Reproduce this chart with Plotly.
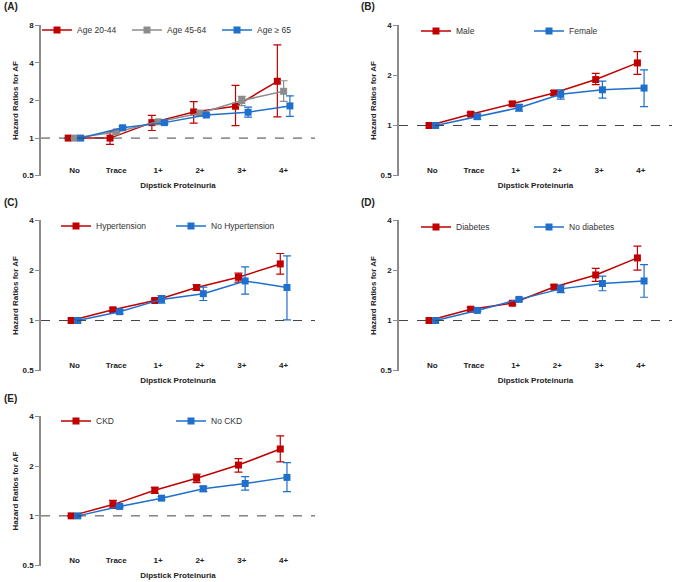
import math
import plotly.graph_objects as go

# ---------------- data ----------------
categories = ["No", "Trace", "1+", "2+", "3+", "4+"]

# Panel A - age groups
age_20_44 = [1.00, 1.00, 1.33, 1.62, 1.80, 2.85]
age_20_44_lo = [1.00, 0.89, 1.15, 1.32, 1.26, 1.48]
age_20_44_hi = [1.00, 1.12, 1.52, 1.96, 2.64, 5.57]
age_45_64 = [1.00, 1.12, 1.35, 1.58, 2.00, 2.37]
age_45_64_lo = [1.00, 1.10, 1.30, 1.50, 1.82, 1.97]
age_45_64_hi = [1.00, 1.15, 1.40, 1.67, 2.16, 2.88]
age_65 = [1.00, 1.21, 1.33, 1.53, 1.61, 1.81]
age_65_lo = [1.00, 1.18, 1.30, 1.49, 1.47, 1.49]
age_65_hi = [1.00, 1.24, 1.37, 1.57, 1.77, 2.18]

# Panel B - sex
male = [1.00, 1.17, 1.35, 1.57, 1.89, 2.38]
male_lo = [1.00, 1.14, 1.31, 1.52, 1.76, 2.03]
male_hi = [1.00, 1.20, 1.39, 1.62, 2.06, 2.78]
female = [1.00, 1.13, 1.28, 1.54, 1.64, 1.68]
female_lo = [1.00, 1.09, 1.22, 1.44, 1.46, 1.30]
female_hi = [1.00, 1.17, 1.34, 1.64, 1.85, 2.16]

# Panel C - hypertension
htn = [1.00, 1.16, 1.32, 1.58, 1.82, 2.19]
htn_lo = [1.00, 1.13, 1.29, 1.52, 1.70, 1.90]
htn_hi = [1.00, 1.19, 1.35, 1.64, 1.93, 2.53]
no_htn = [1.00, 1.13, 1.34, 1.45, 1.73, 1.58]
no_htn_lo = [1.00, 1.10, 1.27, 1.32, 1.44, 1.01]
no_htn_hi = [1.00, 1.16, 1.41, 1.59, 2.10, 2.45]

# Panel D - diabetes
dm = [1.00, 1.17, 1.27, 1.59, 1.88, 2.38]
dm_lo = [1.00, 1.14, 1.24, 1.55, 1.72, 2.01]
dm_hi = [1.00, 1.20, 1.30, 1.64, 2.06, 2.80]
no_dm = [1.00, 1.15, 1.34, 1.55, 1.67, 1.73]
no_dm_lo = [1.00, 1.13, 1.31, 1.47, 1.51, 1.38]
no_dm_hi = [1.00, 1.17, 1.37, 1.63, 1.85, 2.17]

# Panel E - CKD
ckd = [1.00, 1.17, 1.43, 1.69, 2.03, 2.54]
ckd_lo = [1.00, 1.11, 1.37, 1.59, 1.84, 2.12]
ckd_hi = [1.00, 1.24, 1.49, 1.79, 2.22, 3.05]
no_ckd = [1.00, 1.14, 1.28, 1.46, 1.57, 1.71]
no_ckd_lo = [1.00, 1.12, 1.25, 1.40, 1.43, 1.40]
no_ckd_hi = [1.00, 1.16, 1.31, 1.51, 1.73, 2.10]

reference_hr = 1.0
y_tick_values = [0.5, 1, 2, 4, 8]

# ---------------- style ----------------
RED = "#C00000"
GRAY = "#8C8C8C"
BLUE = "#1F6FCC"
FONT = "Liberation Sans, Arial, sans-serif"
W, H = 675, 582

fig = go.Figure()


def add_series(name, vals, lo, hi, color, offset, ax, leg):
    xs = [i + offset for i in range(len(categories))]
    fig.add_trace(go.Scatter(
        x=xs, y=vals, name=name, mode="lines+markers",
        line=dict(color=color, width=1.5),
        marker=dict(symbol="square", size=7, color=color),
        error_y=dict(type="data", symmetric=False,
                     array=[h - v for h, v in zip(hi, vals)],
                     arrayminus=[v - l for v, l in zip(vals, lo)],
                     color=color, thickness=1.2, width=4),
        xaxis="x" + ax, yaxis="y" + ax, legend=leg,
    ))


panels = [
    ("", "legend", [("Age 20-44", age_20_44, age_20_44_lo, age_20_44_hi, RED, -0.15),
                    ("Age 45-64", age_45_64, age_45_64_lo, age_45_64_hi, GRAY, 0.0),
                    ("Age \u2265 65", age_65, age_65_lo, age_65_hi, BLUE, 0.15)]),
    ("2", "legend2", [("Male", male, male_lo, male_hi, RED, -0.08),
                      ("Female", female, female_lo, female_hi, BLUE, 0.08)]),
    ("3", "legend3", [("Hypertension", htn, htn_lo, htn_hi, RED, -0.08),
                      ("No Hypertension", no_htn, no_htn_lo, no_htn_hi, BLUE, 0.08)]),
    ("4", "legend4", [("Diabetes", dm, dm_lo, dm_hi, RED, -0.08),
                      ("No diabetes", no_dm, no_dm_lo, no_dm_hi, BLUE, 0.08)]),
    ("5", "legend5", [("CKD", ckd, ckd_lo, ckd_hi, RED, -0.08),
                      ("No CKD", no_ckd, no_ckd_lo, no_ckd_hi, BLUE, 0.08)]),
]
for ax, leg, series in panels:
    for s in series:
        add_series(*s, ax, leg)

# layout geometry (pixels)
col_x = [(41, 315), (399, 672)]
row_y = [(25, 176), (220, 371), (416, 566)]
cells = [(0, 0), (0, 1), (1, 0), (1, 1), (2, 0)]
ymax = [8, 4, 4, 4, 4]
labels = ["(A)", "(B)", "(C)", "(D)", "(E)"]
legend_pos = [(37, 30, 45), (416, 31, 68), (56, 226, 70), (416, 227, 68), (56, 421, 70)]

layout = dict(
    width=W, height=H, margin=dict(l=0, r=0, t=0, b=0),
    paper_bgcolor="white", plot_bgcolor="white",
    font=dict(family=FONT, color="#222222"),
    showlegend=True, shapes=[], annotations=[],
)

for k, (r, c) in enumerate(cells):
    suf = "" if k == 0 else str(k + 1)
    x0, x1 = col_x[c]
    yt, yb = row_y[r]
    tv = [v for v in y_tick_values if v <= ymax[k]]
    layout["xaxis" + suf] = dict(
        domain=[x0 / W, x1 / W], range=[-0.8, 5.75], anchor="y" + suf,
        tickvals=list(range(len(categories))), ticktext=categories,
        ticklabelposition="outside", ticklabelstandoff=-12,
        ticks="", showline=False, showgrid=False,
        zeroline=False, tickfont=dict(size=8, family=FONT, color="#222", weight="bold"),
        title=dict(text="<b>Dipstick Proteinuria</b>", font=dict(size=8, color="#222"), standoff=8),
        automargin=False,
    )
    layout["yaxis" + suf] = dict(
        domain=[1 - yb / H, 1 - yt / H], type="log",
        range=[math.log10(0.497), math.log10(ymax[k] * 1.006)], anchor="x" + suf,
        tickvals=tv, ticktext=[("%g" % v) for v in tv],
        showline=True, linecolor="#8C8C8C", linewidth=1.5,
        ticks="outside", ticklen=4, tickcolor="#8C8C8C", tickwidth=1,
        showgrid=False, zeroline=False,
        tickfont=dict(size=8, family=FONT, color="#222", weight="bold"),
        title=dict(text="<b>Hazard Ratios for AF</b>", font=dict(size=8, color="#222"), standoff=3),
        automargin=False,
    )
    layout["shapes"].append(dict(
        type="line", xref="x" + suf + " domain", yref="y" + suf,
        x0=0, x1=1, y0=reference_hr, y1=reference_hr,
        line=dict(color="#444444", width=1, dash="dash"),
    ))
    layout["annotations"].append(dict(
        text="<b>" + labels[k] + "</b>", xref="paper", yref="paper",
        x=(2 if c == 0 else 359) / W, y=1 - (yt - 18) / H,
        xanchor="left", yanchor="middle", showarrow=False,
        font=dict(size=10, color="#222"),
    ))
    lx, ly, ew = legend_pos[k]
    layout["legend" + suf] = dict(
        x=lx / W, y=1 - ly / H, xanchor="left", yanchor="middle",
        orientation="h", bgcolor="rgba(0,0,0,0)",
        font=dict(size=8.5, family=FONT, color="#333"),
        entrywidth=ew, entrywidthmode="pixels",
        itemclick=False, itemdoubleclick=False,
    )

fig.update_layout(**layout)
fig.write_html("out.html", config={"displayModeBar": False},
               post_script="document.body.style.margin='0';")
